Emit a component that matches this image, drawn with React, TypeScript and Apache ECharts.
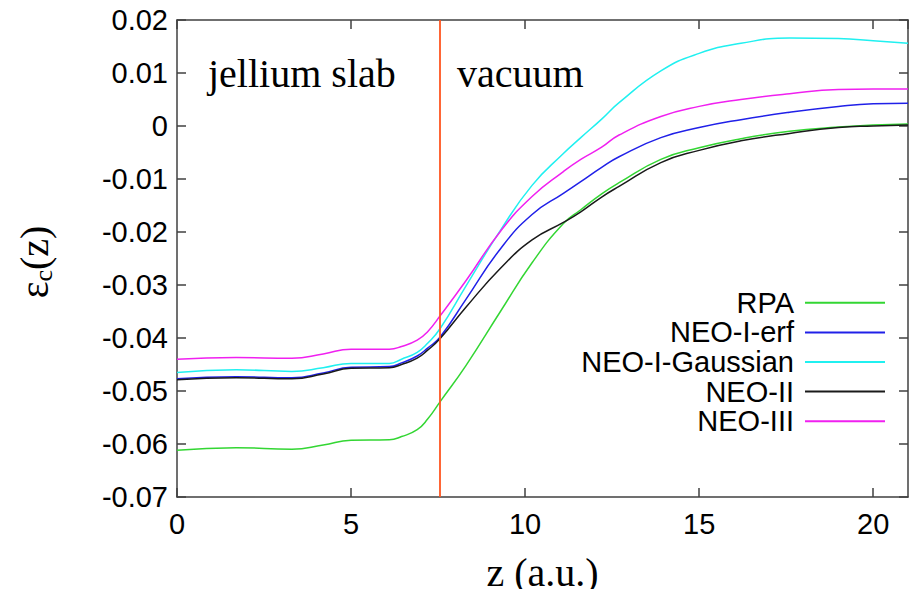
import React, { useEffect, useRef } from "react";
import * as echarts from "echarts";

// distance from the slab centre, z (a.u.)
const zValues = [0, 1.7, 3.3, 4.2, 5, 6.1, 6.45, 6.9, 7.2, 7.56, 8.3, 9.3, 10.2, 11.1, 11.6, 12.2, 12.7, 13.9, 15, 16.2, 17.6, 19, 20, 21];

// correlation energy per particle, eps_c(z)
const rpa = [-0.0612, -0.0607, -0.061, -0.0602, -0.0593, -0.0592, -0.0586, -0.0573, -0.0553, -0.052, -0.0452, -0.0349, -0.0258, -0.0184, -0.0158, -0.0128, -0.0107, -0.0063, -0.0041, -0.0024, -0.001, -0.0002, 0.0002, 0.0004];
const neoIErf = [-0.0477, -0.0473, -0.0475, -0.0466, -0.0455, -0.0454, -0.0447, -0.0434, -0.0419, -0.0398, -0.0327, -0.0231, -0.0167, -0.0127, -0.0105, -0.0078, -0.0058, -0.0022, -0.0003, 0.0012, 0.0026, 0.0037, 0.0042, 0.0043];
const neoIGaussian = [-0.0465, -0.046, -0.0463, -0.0456, -0.0448, -0.0448, -0.044, -0.0427, -0.041, -0.0382, -0.0302, -0.0196, -0.0112, -0.0052, -0.0022, 0.0013, 0.0044, 0.0104, 0.0137, 0.0156, 0.0166, 0.0165, 0.0161, 0.0156];
const neoII = [-0.0479, -0.0475, -0.0477, -0.0468, -0.0457, -0.0456, -0.045, -0.0438, -0.0423, -0.0401, -0.0342, -0.0268, -0.0215, -0.0182, -0.0162, -0.0134, -0.0114, -0.0069, -0.0046, -0.0028, -0.0014, -0.0003, 0.0, 0.0002];
const neoIII = [-0.044, -0.0437, -0.0438, -0.043, -0.0421, -0.0421, -0.0416, -0.0404, -0.0388, -0.0358, -0.0292, -0.0198, -0.0133, -0.0086, -0.0063, -0.004, -0.0017, 0.0018, 0.0037, 0.005, 0.0061, 0.0069, 0.007, 0.007];

const seriesNames = ["RPA", "NEO-I-erf", "NEO-I-Gaussian", "NEO-II", "NEO-III"];
const seriesValues = [rpa, neoIErf, neoIGaussian, neoII, neoIII];
const seriesColors = ["#33d633", "#2020e8", "#20f0f0", "#1a1a1a", "#f020f0"];

// jellium edge
const surfaceZ = 7.56;

const regionLabels = ["jellium slab", "vacuum"];

const SANS = "Liberation Sans, Arial, sans-serif";
const SERIF = "Liberation Serif, Times New Roman, serif";

export default function App() {
  const ref = useRef<HTMLDivElement>(null);

  useEffect(() => {
    if (!ref.current) return;
    const chart = echarts.init(ref.current, undefined, { renderer: "svg" });

    const axisLine = { show: true, onZero: false, lineStyle: { color: "#404040", width: 1.5 } };
    const tick = { show: true, inside: true, length: 9, lineStyle: { color: "#404040", width: 1.5 } };

    const series: any[] = seriesNames.map((name, i) => ({
      name,
      type: "line",
      xAxisIndex: 0,
      yAxisIndex: 0,
      data: zValues.map((z, k) => [z, seriesValues[i][k]]),
      showSymbol: false,
      symbol: "none",
      smooth: 0.5,
      lineStyle: { color: seriesColors[i], width: 1.5 },
      itemStyle: { color: seriesColors[i] },
      z: 3,
    }));
    series[0].markLine = {
      silent: true,
      symbol: ["none", "none"],
      label: { show: false },
      lineStyle: { color: "#ff5520", width: 1.8, type: "solid" },
      data: [{ xAxis: surfaceZ }],
    };

    chart.setOption({
      animation: false,
      backgroundColor: "#ffffff",
      grid: { left: 177, right: 11, top: 20, bottom: 98, containLabel: false },
      legend: {
        orient: "vertical",
        right: 29,
        top: 283,
        align: "right",
        icon: "rect",
        itemWidth: 80,
        itemHeight: 2,
        itemGap: 0,
        selectedMode: false,
        textStyle: {
          fontFamily: SANS,
          fontSize: 29,
          color: "#000",
          lineHeight: 29.6,
          padding: [0, 6, 0, 0],
        },
        data: seriesNames,
      },
      xAxis: [
        {
          type: "value",
          min: 0,
          max: 21,
          interval: 5,
          position: "bottom",
          axisLine,
          axisTick: tick,
          splitLine: { show: false },
          axisLabel: {
            margin: 12,
            fontFamily: SANS,
            fontSize: 29,
            color: "#000",
            showMaxLabel: false,
            formatter: (v: number) => (v % 5 === 0 ? String(v) : ""),
          },
          name: "z (a.u.)",
          nameLocation: "middle",
          nameGap: 55,
          nameTextStyle: { fontFamily: SERIF, fontSize: 40, color: "#000" },
        },
        {
          type: "value",
          min: 0,
          max: 21,
          interval: 5,
          position: "top",
          axisLine,
          axisTick: tick,
          splitLine: { show: false },
          axisLabel: { show: false },
        },
      ],
      yAxis: [
        {
          type: "value",
          min: -0.07,
          max: 0.02,
          interval: 0.01,
          position: "left",
          axisLine,
          axisTick: tick,
          splitLine: { show: false },
          axisLabel: {
            margin: 9,
            fontFamily: SANS,
            fontSize: 29,
            color: "#000",
            formatter: (v: number) => {
              const r = Math.round(v * 100) / 100;
              return r === 0 ? "0" : r.toFixed(2);
            },
          },
        },
        {
          type: "value",
          min: -0.07,
          max: 0.02,
          interval: 0.01,
          position: "right",
          axisLine,
          axisTick: tick,
          splitLine: { show: false },
          axisLabel: { show: false },
        },
      ],
      graphic: [
        {
          type: "text",
          x: 208,
          y: 73,
          style: {
            text: regionLabels[0],
            font: `40px ${SERIF}`,
            fill: "#000",
            align: "left",
            verticalAlign: "middle",
          },
        },
        {
          type: "text",
          x: 457,
          y: 73,
          style: {
            text: regionLabels[1],
            font: `40px ${SERIF}`,
            fill: "#000",
            align: "left",
            verticalAlign: "middle",
          },
        },
        {
          type: "text",
          x: 34,
          y: 262,
          rotation: Math.PI / 2,
          style: {
            text: "{e|ε}{s|c}{e|(z)}",
            align: "center",
            verticalAlign: "middle",
            fill: "#000",
            rich: {
              e: { fontFamily: SERIF, fontSize: 40, lineHeight: 44, fill: "#000" },
              s: { fontFamily: SERIF, fontSize: 26, lineHeight: 20, verticalAlign: "bottom", fill: "#000" },
            },
          },
        },
      ],
      series,
    });

    return () => chart.dispose();
  }, []);

  return <div ref={ref} style={{ width: 919, height: 597, margin: -8 }} />;
}
